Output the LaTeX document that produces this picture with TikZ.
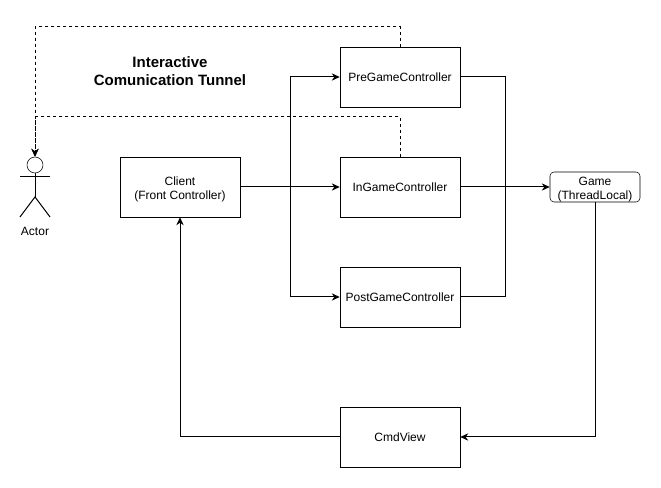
\documentclass[tikz,border=0pt]{standalone}
\usepackage{fontspec}
\setmainfont{Liberation Sans}
\usepackage{xcolor}
\usepackage{tikz}
\usetikzlibrary{arrows.meta,positioning,calc}
\definecolor{ink}{HTML}{000000}
\newcommand{\toppad}{\rule{0pt}{10pt}}

\begin{document}
\begin{tikzpicture}[
  x=0.75pt,y=-0.75pt,
  every node/.style={font=\fontsize{9}{10.5}\selectfont,text=ink},
  ctrl/.style={rectangle,draw=ink,fill=white,minimum width=90pt,minimum height=45pt,inner sep=0pt,align=center},
  ctrlone/.style={ctrl,text height=7.2pt,text depth=0pt},
  store/.style={rectangle,rounded corners=3pt,draw=ink,fill=white,minimum width=67.5pt,minimum height=22.5pt,inner sep=0pt,align=center},
  head/.style={circle,draw=ink,fill=white,minimum size=12pt,inner sep=0pt},
  line/.style={color=ink,line width=0.75pt},
  flow/.style={line,-{Stealth[length=6pt,width=5.5pt]}},
  tunnel/.style={flow,dash pattern=on 2.25pt off 2.25pt}
]
\useasboundingbox (0,0) rectangle (661,488);
\node[ctrl] (client) at (180,187) {\toppad Client\\(Front Controller)};
\node[ctrlone] (pre) at (400,77) {PreGameController};
\node[ctrlone] (in) at (400,187) {InGameController};
\node[ctrlone] (post) at (400,297) {PostGameController};
\node[ctrlone] (view) at (400,437) {CmdView};
\node[store] (game) at (595,187) {\toppad Game\\(ThreadLocal)};
\node[font=\fontsize{11.25}{13.5}\selectfont\bfseries,align=center] (title) at (170,71) {Interactive\\Comunication Tunnel};
% actor
\node[head] (actor) at (35,165) {};
\coordinate (hip) at (35,197);
\draw[line] (actor.south)--(hip);
\draw[line] (20,177)--(50,177);
\draw[line] (20,217)--(hip)--(50,217);
\node (actorlabel) at (35,231) {Actor};
% tunnel
\draw[tunnel] (pre.north)--++(0,-20)-|(actor.north);
\draw[tunnel] (in.north)--++(0,-40)-|(actor.north);
% controllers
\coordinate (split) at (290,187);
\coordinate (merge) at (505,187);
\draw[flow] (client)--(in);
\draw[flow] (split)|-(pre.west);
\draw[flow] (split)|-(post.west);
\draw[flow] (in)--(game);
\draw[line] (pre.east)-|(merge);
\draw[line] (post.east)-|(merge);
\draw[flow] (game.south)|-(view.east);
\draw[flow] (view.west)-|(client.south);
\end{tikzpicture}
\end{document}
